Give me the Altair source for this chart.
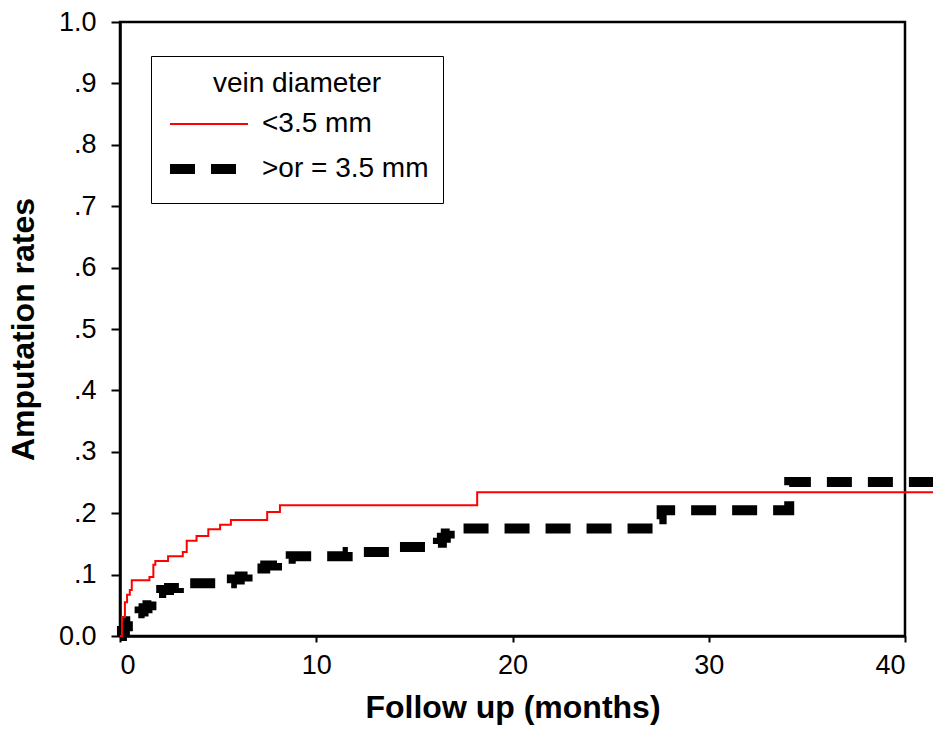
import altair as alt
import pandas as pd

# Kaplan-Meier style cumulative amputation rates
red_label = "<3.5 mm"
black_label = ">or = 3.5 mm"

red_t = [0, 0.1, 0.25, 0.36, 0.5, 0.6, 1.5, 1.7, 1.8, 2.45, 3.2, 3.4, 3.9, 4.5,
         5.1, 5.65, 7.5, 8.15, 18.2, 42]
red_v = [0, 0.031, 0.055, 0.067, 0.075, 0.091, 0.096, 0.116, 0.122, 0.130,
         0.137, 0.155, 0.163, 0.174, 0.181, 0.189, 0.202, 0.213, 0.234, 0.234]

black_t = [0, 0.1, 0.25, 0.4, 0.55, 0.7, 1.0, 1.2, 1.4, 1.6, 1.75, 1.9, 2.1, 2.5,
           3.0, 3.3, 3.5, 5.7, 6.1, 6.5, 6.9, 7.4, 8.0, 8.3, 8.7, 11.6, 14.0,
           16.2, 16.4, 16.6, 16.8, 27.4, 27.6, 34.1, 42]
black_v = [0, 0.008, 0.016, 0.024, 0.031, 0.037, 0.040, 0.045, 0.050, 0.058,
           0.065, 0.070, 0.075, 0.078, 0.080, 0.083, 0.086, 0.092, 0.097, 0.103,
           0.110, 0.115, 0.120, 0.126, 0.130, 0.137, 0.145, 0.152, 0.160, 0.167,
           0.175, 0.190, 0.205, 0.251, 0.251]

x_ticks = [0, 10, 20, 30, 40]
y_ticks = [0, 0.1, 0.2, 0.3, 0.4, 0.5, 0.6, 0.7, 0.8, 0.9, 1.0]

df = pd.concat([
    pd.DataFrame({"t": red_t, "v": red_v, "group": red_label}),
    pd.DataFrame({"t": black_t, "v": black_v, "group": black_label}),
], ignore_index=True)

FONT = "Liberation Sans"
groups = [red_label, black_label]

color = alt.Color("group:N", scale=alt.Scale(domain=groups, range=["#ff0000", "#000000"]),
                  legend=alt.Legend(
                      title="vein diameter", orient="none", legendX=31, legendY=34,
                      strokeColor="black", fillColor="white",
                      padding=14, titleFont=FONT, titleFontSize=28, titleFontWeight="normal",
                      titleColor="black", titleAnchor="middle", titlePadding=10,
                      labelFont=FONT, labelFontSize=28, labelColor="black",
                      labelLimit=400,
                      symbolType="M-1,0H4.2", symbolSize=900, labelOffset=57,
                      rowPadding=11,
                  ))
dash = alt.StrokeDash("group:N", scale=alt.Scale(domain=groups, range=[[1, 0], [25, 16]]))
width = alt.StrokeWidth("group:N", scale=alt.Scale(domain=groups, range=[2, 10]))

x = alt.X("t:Q", scale=alt.Scale(domain=[0, 40], nice=False, zero=False),
          axis=alt.Axis(title="Follow up (months)", values=x_ticks, tickSize=6,
                        labelPadding=10, titlePadding=14, grid=False))
y = alt.Y("v:Q", scale=alt.Scale(domain=[0, 1], nice=False),
          axis=alt.Axis(title="Amputation rates", values=y_ticks, tickSize=9,
                        labelPadding=15, titlePadding=18, grid=False,
                        labelExpr="datum.value == 0 ? '0.0' : (datum.value == 1 ? '1.0' : replace(format(datum.value, '.1f'), '0.', '.'))"))

base = alt.Chart(df).mark_line(interpolate="step-after", strokeCap="butt", clip=False)

black_layer = base.transform_filter(alt.datum.group == black_label).encode(
    x=x, y=y, color=color, strokeDash=dash, strokeWidth=width)
red_layer = base.transform_filter(alt.datum.group == red_label).encode(
    x=x, y=y, color=color, strokeDash=dash, strokeWidth=width)

chart = alt.layer(black_layer, red_layer).properties(
    width=785, height=614,
    autosize=alt.AutoSizeParams(type="none"),
    padding={"left": 120, "top": 22, "right": 28, "bottom": 95},
    background="white",
).configure_view(
    stroke="black", strokeWidth=2.5
).configure_axis(
    domainColor="black", domainWidth=2.5, tickColor="black", tickWidth=2,
    labelFont=FONT, labelFontSize=27, labelColor="black",
    titleFont=FONT, titleFontSize=32, titleFontWeight="bold", titleColor="black",
)

chart.save("out.html", embed_options={"renderer": "svg", "actions": False})
